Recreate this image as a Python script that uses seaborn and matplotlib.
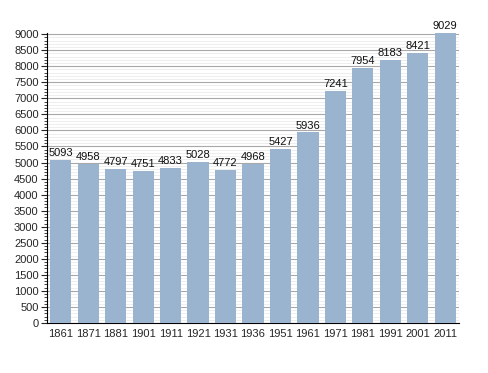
import matplotlib
matplotlib.use("Agg")
import matplotlib.pyplot as plt
from matplotlib.ticker import MultipleLocator
import seaborn as sns
import pandas as pd

years = ["1861", "1871", "1881", "1901", "1911", "1921", "1931", "1936",
         "1951", "1961", "1971", "1981", "1991", "2001", "2011"]
population = [5093, 4958, 4797, 4751, 4833, 5028, 4772, 4968,
              5427, 5936, 7241, 7954, 8183, 8421, 9029]

df = pd.DataFrame({"year": years, "pop": population})

sns.set_style("white")
plt.rcParams["font.family"] = ["Liberation Sans", "DejaVu Sans"]

fig = plt.figure(figsize=(4.88, 3.73), dpi=100)
ax = fig.add_axes([0.0963, 0.134, 0.8443, 0.778])

sns.barplot(data=df, x="year", y="pop", color="#9ab3cf", saturation=1,
            width=0.77, edgecolor="none", linewidth=0, ax=ax, zorder=3)

for i, v in enumerate(population):
    ax.text(i, v + 60, str(v), ha="center", va="bottom", fontsize=8, color="#111111", zorder=4)

ax.set_ylim(0, 9040)
ax.set_xlim(-0.5, len(years) - 0.5)
ax.yaxis.set_major_locator(MultipleLocator(500))
ax.yaxis.set_minor_locator(MultipleLocator(100))
ax.grid(axis="y", which="major", color="#a8a8a8", linewidth=0.8, zorder=0)
ax.grid(axis="y", which="minor", color="#ebebeb", linewidth=0.6, zorder=0)
ax.grid(axis="x", visible=False)
ax.set_axisbelow(True)

for s in ["top", "right"]:
    ax.spines[s].set_visible(False)
ax.spines["left"].set_color("black")
ax.spines["bottom"].set_color("black")
ax.spines["left"].set_linewidth(0.8)
ax.spines["bottom"].set_linewidth(0.8)

ax.tick_params(axis="y", which="major", left=True, length=4, width=0.8, labelsize=8, pad=2)
ax.tick_params(axis="y", which="minor", left=True, length=2, width=0.6)
ax.tick_params(axis="x", bottom=False, labelsize=8, pad=1)
ax.set_xlabel("")
ax.set_ylabel("")

fig.savefig("out.png", dpi=100)
